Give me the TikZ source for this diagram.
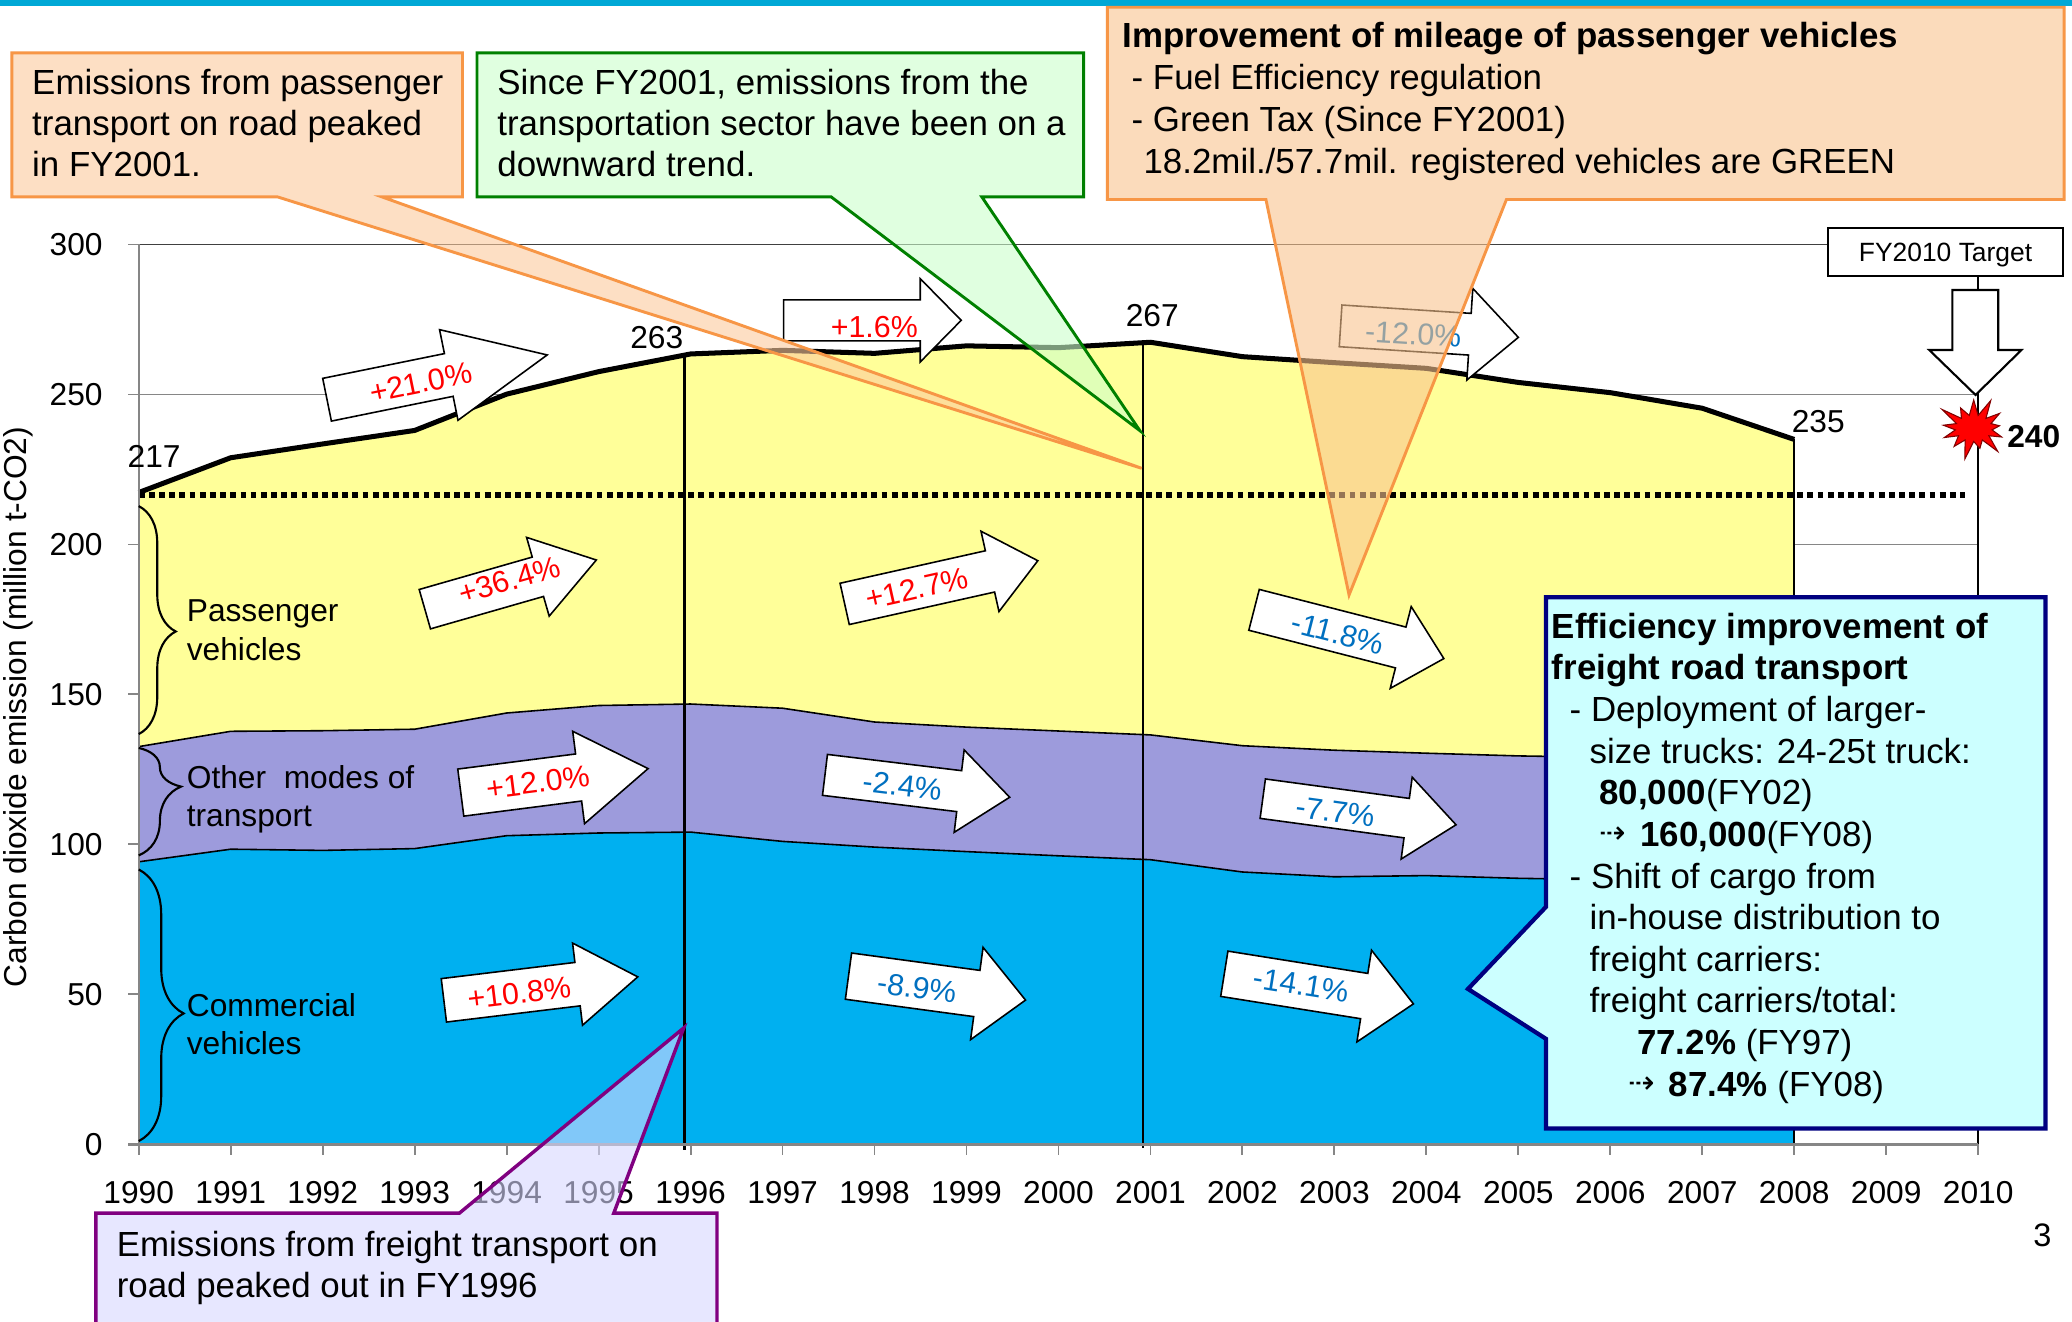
\documentclass[tikz,border=0pt]{standalone}
\usepackage{fontspec}
\setmainfont{Liberation Sans}
\newfontfamily\dejavu{DejaVu Sans}
\usetikzlibrary{decorations.pathreplacing,shapes.symbols}
\definecolor{topbar}{HTML}{00A8D6}
\definecolor{pasyel}{HTML}{FFFF99}
\definecolor{othpur}{HTML}{9D9BDC}
\definecolor{comblu}{HTML}{00B0F0}
\definecolor{pctred}{HTML}{FF0000}
\definecolor{pctblue}{HTML}{0070C0}
\definecolor{orgline}{HTML}{F79646}
\definecolor{orgfillA}{HTML}{FCCA9D}
\definecolor{orgfillB}{HTML}{F9C38E}
\definecolor{grnline}{HTML}{008000}
\definecolor{grnfill}{HTML}{CCFFCC}
\definecolor{purline}{HTML}{800080}
\definecolor{purfill}{HTML}{D8D8FF}
\definecolor{navyline}{HTML}{000080}
\definecolor{cyanfill}{HTML}{CCFFFF}
\definecolor{axgray}{HTML}{868686}
\tikzset{
  gridline/.style={draw=axgray, line width=0.6pt},
  axline/.style={draw=axgray, line width=0.7pt},
  arrowbody/.style={draw=black, fill=white, line width=0.6pt, line join=miter},
  pct/.style={inner sep=0pt, font=\fontsize{11.5pt}{13pt}\selectfont},
  calltxt/.style={anchor=base west, inner sep=0pt, font=\fontsize{13.2pt}{15.8pt}\selectfont},
  lbl/.style={inner sep=0pt, font=\fontsize{12pt}{14pt}\selectfont},
  lyrlbl/.style={anchor=base west, inner sep=0pt, font=\fontsize{12pt}{14pt}\selectfont},
  bracedeco/.style={line width=0.8pt, decorate},
  callbox/.style={line width=1.1pt, line join=miter, fill opacity=0.6},
  dasharr/.style={anchor=base west, inner sep=0pt, font=\fontsize{12pt}{14pt}\dejavu},
}
\newcommand{\blockarrow}[7]{%
  \begin{scope}[shift={(#1,#2)},rotate=#3]
    \draw[arrowbody] (0,{-#5/2}) -- ({#4-#7},{-#5/2}) -- ({#4-#7},{-#6/2}) -- (#4,0)
      -- ({#4-#7},{#6/2}) -- ({#4-#7},{#5/2}) -- (0,{#5/2}) -- cycle;
  \end{scope}}
\begin{document}
\begin{tikzpicture}[x=0.5pt,y=-0.5pt]
\useasboundingbox (0,0) rectangle (1568,1000);
\clip (0,0) rectangle (1568,1000);
\fill[white] (0,0) rectangle (1568,1000);
\fill[topbar] (0,0) rectangle (1568,4.8);

% gridlines
\foreach \v in {50,100,150,200,250} \draw[gridline] (105,{866-2.27*\v}) -- (1497,{866-2.27*\v});
\draw[black!75,line width=0.6pt] (105,185) -- (1383,185);

% stacked areas
\begin{scope}[shift={(105,866)},x=34.8pt,y=1.135pt]
  \fill[pasyel] (0,0) -- plot coordinates {(0,217.3) (1,228.9) (2,233.5) (3,238) (4,250.1) (5,257.6) (6,263.5) (7,264.7) (8,263.7) (9,266.2) (10,265.6) (11,267.4) (12,262.6) (13,260.6) (14,258.7) (15,254) (16,250.6) (17,245.4) (18,235)} -- (18,0) -- cycle;
  \fill[othpur] (0,0) -- plot coordinates {(0,132.6) (1,137.7) (2,137.9) (3,138.4) (4,143.8) (5,146.3) (6,146.8) (7,145.4) (8,140.8) (9,139.1) (10,137.8) (11,136.5) (12,132.9) (13,131.4) (14,130.4) (15,129.5) (16,129) (17,128.5) (18,128)} -- (18,0) -- cycle;
  \fill[comblu] (0,0) -- plot coordinates {(0,94.2) (1,98.4) (2,98.0) (3,98.6) (4,102.9) (5,103.8) (6,104.1) (7,101.0) (8,99.1) (9,97.6) (10,96.2) (11,94.9) (12,90.8) (13,89.2) (14,89.6) (15,88.7) (16,88.2) (17,87.8) (18,87.4)} -- (18,0) -- cycle;
  \draw[line width=0.6pt] plot coordinates {(0,132.6) (1,137.7) (2,137.9) (3,138.4) (4,143.8) (5,146.3) (6,146.8) (7,145.4) (8,140.8) (9,139.1) (10,137.8) (11,136.5) (12,132.9) (13,131.4) (14,130.4) (15,129.5) (16,129) (17,128.5) (18,128)};
  \draw[line width=0.6pt] plot coordinates {(0,94.2) (1,98.4) (2,98.0) (3,98.6) (4,102.9) (5,103.8) (6,104.1) (7,101.0) (8,99.1) (9,97.6) (10,96.2) (11,94.9) (12,90.8) (13,89.2) (14,89.6) (15,88.7) (16,88.2) (17,87.8) (18,87.4)};
  \draw[line width=0.6pt] (18,0) -- (18,235);
  \draw[line width=1.9pt, line join=round] plot coordinates {(0,217.3) (1,228.9) (2,233.5) (3,238) (4,250.1) (5,257.6) (6,263.5) (7,264.7) (8,263.7) (9,266.2) (10,265.6) (11,267.4) (12,262.6) (13,260.6) (14,258.7) (15,254) (16,250.6) (17,245.4) (18,235)};
\end{scope}

% vertical markers
\draw[line width=0.9pt] (518,268) -- (518,870);
\draw[line width=0.8pt] (865,259.5) -- (865,869);
\draw[line width=0.6pt] (1497,209) -- (1497,866);

% FY1990 level dotted line
\draw[line width=2pt, dash pattern=on 2.2pt off 1.65pt] (105,374.5) -- (1487,374.5);

% axes
\draw[axline] (105,185) -- (105,866);
\foreach \v in {0,50,...,300} {
  \draw[axline] (97,{866-2.27*\v}) -- (105,{866-2.27*\v});
  \node[lbl, anchor=east] (ytick\v) at (78,{866-2.27*\v}) {\v};
}
\draw[draw=axgray, line width=1.3pt] (97,866) -- (1497,866);
\foreach \i in {0,...,20} {
  \draw[axline] ({105+69.6*\i},866) -- ({105+69.6*\i},874);
  \pgfmathtruncatemacro\yr{1990+\i}
  \node[lbl, anchor=base] (year\i) at ({105+69.6*\i},910.6) {\yr};
}
\node[lbl, rotate=90] (ytitle) at (14,535) {Carbon dioxide emission (million t-CO2)};

% data labels
\node[lbl] (v217) at (116.6,345.6) {217};
\node[lbl] (v263) at (497,255.4) {263};
\node[lbl] (v267) at (872,238.8) {267};
\node[lbl] (v235) at (1376,319) {235};
\node[lbl, font=\fontsize{12pt}{14pt}\selectfont\bfseries] (v240) at (1539,330.5) {240};
\node[starburst, starburst points=13, starburst point height=8pt, fill=red, draw=red!50!black, line width=0.4pt, minimum width=30pt, minimum height=26pt, inner sep=0pt] (burst) at (1493.6,324.1) {};

% FY2010 target
\node[draw=black, fill=white, line width=0.8pt, minimum width=89.1pt, minimum height=18.05pt, inner sep=0pt, text height=7.2pt, text depth=0pt, font=\fontsize{10pt}{12pt}\selectfont] (target) at (1472.3,190.85) {FY2010 Target};
\draw[arrowbody, line width=0.8pt] (1477.5,219.5) -- (1512.2,219.5) -- (1512.2,264.9) -- (1529.7,264.9) -- (1495,298.9) -- (1460,264.9) -- (1477.5,264.9) -- cycle;

% braces and layer labels
\draw[bracedeco, decoration={brace, amplitude=14pt, aspect=0.55}] (105,383) -- (105,555.5);
\draw[bracedeco, decoration={brace, amplitude=16pt, aspect=0.36}] (105,566) -- (105,647.3);
\draw[bracedeco, decoration={brace, amplitude=17pt, aspect=0.53}] (105,658) -- (105,863.5);
\node[lyrlbl] (pas1) at (141,470.3) {Passenger};
\node[lyrlbl] (pas2) at (141,500) {vehicles};
\node[lyrlbl] (oth1) at (141,596.5) {Other\ \ modes of};
\node[lyrlbl] (oth2) at (141,625.7) {transport};
\node[lyrlbl] (com1) at (141,768.9) {Commercial};
\node[lyrlbl] (com2) at (141,797.8) {vehicles};

% block arrows
\blockarrow{247.5}{302.5}{11.5}{170}{33}{70}{76}
\node[pct, text=pctred, rotate=11.5] (a1) at (318.5,289.5) {+21.0\%};
\blockarrow{321.5}{461}{16}{135}{31}{62}{46}
\node[pct, text=pctred, rotate=16] (a2) at (385.6,439) {+36.4\%};
\blockarrow{593}{242.4}{0}{134.4}{31}{63}{31}
\node[pct, text=pctred] (a3) at (661.6,247.8) {+1.6\%};
\blockarrow{1014.5}{246.6}{-3.7}{134.8}{31.6}{69.5}{36.8}
\node[pct, text=pctblue, rotate=-3.7] (a4) at (1069.5,252.9) {-12.0\%};
\blockarrow{639.2}{457}{12.6}{149.8}{32}{62.3}{37.1}
\node[pct, text=pctred, rotate=12.6] (a5) at (694,445.2) {+12.7\%};
\blockarrow{949}{461.5}{-14.4}{148.3}{31.9}{63.9}{33.7}
\node[pct, text=pctblue, rotate=-14.4] (a6) at (1012.4,479.3) {-11.8\%};
\blockarrow{348.7}{599.8}{7.3}{142.9}{35.9}{70.5}{53}
\node[pct, text=pctred, rotate=7.3] (a7) at (407,592) {+12.0\%};
\blockarrow{335.9}{757}{6.9}{147.8}{33.1}{62.6}{45.9}
\node[pct, text=pctred, rotate=6.9] (a8) at (392.9,751.4) {+10.8\%};
\blockarrow{624.3}{586.4}{-6.9}{140.8}{31.2}{62.8}{38.5}
\node[pct, text=pctblue, rotate=-6.9] (a9) at (682.8,594.7) {-2.4\%};
\blockarrow{955.6}{604.4}{-7.7}{147.6}{30.1}{62.5}{37.7}
\node[pct, text=pctblue, rotate=-7.7] (a10) at (1010.5,614.2) {-7.7\%};
\blockarrow{642.1}{738.7}{-7.7}{135.2}{35.3}{70.5}{37.2}
\node[pct, text=pctblue, rotate=-7.7] (a11) at (693.9,747.4) {-8.9\%};
\blockarrow{926.5}{736.9}{-9.05}{144.9}{34.7}{70.3}{37.7}
\node[pct, text=pctblue, rotate=-9.05] (a12) at (984.4,745.3) {-14.1\%};

% page number
\node[inner sep=0pt, font=\fontsize{12.3pt}{14pt}\selectfont] (pageno) at (1545.5,934.6) {3};

% callout: passenger peak
\coordinate (tipA) at (864,354.4);
\draw[callbox, draw=orgline, fill=orgfillA] (9,40) -- (350,40) -- (350,149) -- (289,149) -- (tipA) -- (210,149) -- (9,149) -- cycle;
\node[calltxt] (ca1) at (24,71.8) {Emissions from passenger};
\node[calltxt] (ca2) at (24,102.8) {transport on road peaked};
\node[calltxt] (ca3) at (24,133.8) {in FY2001.};

% callout: downward trend
\coordinate (tipB) at (862.6,325.9);
\draw[callbox, draw=grnline, fill=grnfill] (361,40) -- (820,40) -- (820,149) -- (743,149) -- (tipB) -- (629,149) -- (361,149) -- cycle;
\node[calltxt] (cb1) at (376,71.8) {Since FY2001, emissions from the};
\node[calltxt] (cb2) at (376,102.8) {transportation sector have been on a};
\node[calltxt] (cb3) at (376,133.8) {downward trend.};

% callout: mileage improvement
\coordinate (tipC) at (1020.9,450.3);
\draw[callbox, draw=orgline, fill=orgfillB] (838,5.5) -- (1562,5.5) -- (1562,151) -- (1140,151) -- (tipC) -- (958,151) -- (838,151) -- cycle;
\node[calltxt, font=\fontsize{13.2pt}{15.8pt}\selectfont\bfseries] (cc1) at (849,36) {Improvement of mileage of passenger vehicles};
\node[calltxt] (cc2) at (856,67.8) {- Fuel Efficiency regulation};
\node[calltxt] (cc3) at (856,99.5) {- Green Tax (Since FY2001)};
\node[calltxt] (cc4) at (865,131.3) {18.2mil./57.7mil. registered vehicles are GREEN};

% callout: freight peak
\coordinate (tipD) at (517.4,777.9);
\draw[callbox, draw=purline, fill=purfill, line width=1.3pt] (72.5,918) -- (347.7,918) -- (tipD) -- (464.5,918) -- (542.6,918) -- (542.6,1012) -- (72.5,1012) -- cycle;
\node[calltxt] (cd1) at (88,951) {Emissions from freight transport on};
\node[calltxt] (cd2) at (88,982) {road peaked out in FY1996};

% callout: freight efficiency
\coordinate (tipE) at (1110.9,748.4);
\draw[draw=navyline, fill=cyanfill, line width=1.6pt, line join=miter] (1170,452) -- (1548,452) -- (1548,854) -- (1170,854) -- (1170,786.2) -- (tipE) -- (1170,686.2) -- cycle;
\node[calltxt, font=\fontsize{13.2pt}{15.8pt}\selectfont\bfseries] (ce1) at (1174,483) {Efficiency improvement of};
\node[calltxt, font=\fontsize{13.2pt}{15.8pt}\selectfont\bfseries] (ce2) at (1174,514.5) {freight road transport};
\node[calltxt] (ce3) at (1187.5,546) {- Deployment of larger-};
\node[calltxt] (ce4) at (1202.5,577.5) {size trucks: 24-25t truck:};
\node[calltxt] (ce5) at (1210,609) {{\bfseries 80,000}(FY02)};
\node[dasharr] (ce6a) at (1210,638.5) {⇢};
\node[calltxt] (ce6) at (1241,640.5) {{\bfseries 160,000}(FY08)};
\node[calltxt] (ce7) at (1187.5,672) {- Shift of cargo from};
\node[calltxt] (ce8) at (1202.5,703.5) {in-house distribution to};
\node[calltxt] (ce9) at (1202.5,735) {freight carriers:};
\node[calltxt] (ce10) at (1202.5,766.5) {freight carriers/total:};
\node[calltxt] (ce11) at (1238.5,798) {{\bfseries 77.2\%} (FY97)};
\node[dasharr] (ce12a) at (1232,827.5) {⇢};
\node[calltxt] (ce12) at (1262.5,829.5) {{\bfseries 87.4\%} (FY08)};
\end{tikzpicture}
\end{document}
